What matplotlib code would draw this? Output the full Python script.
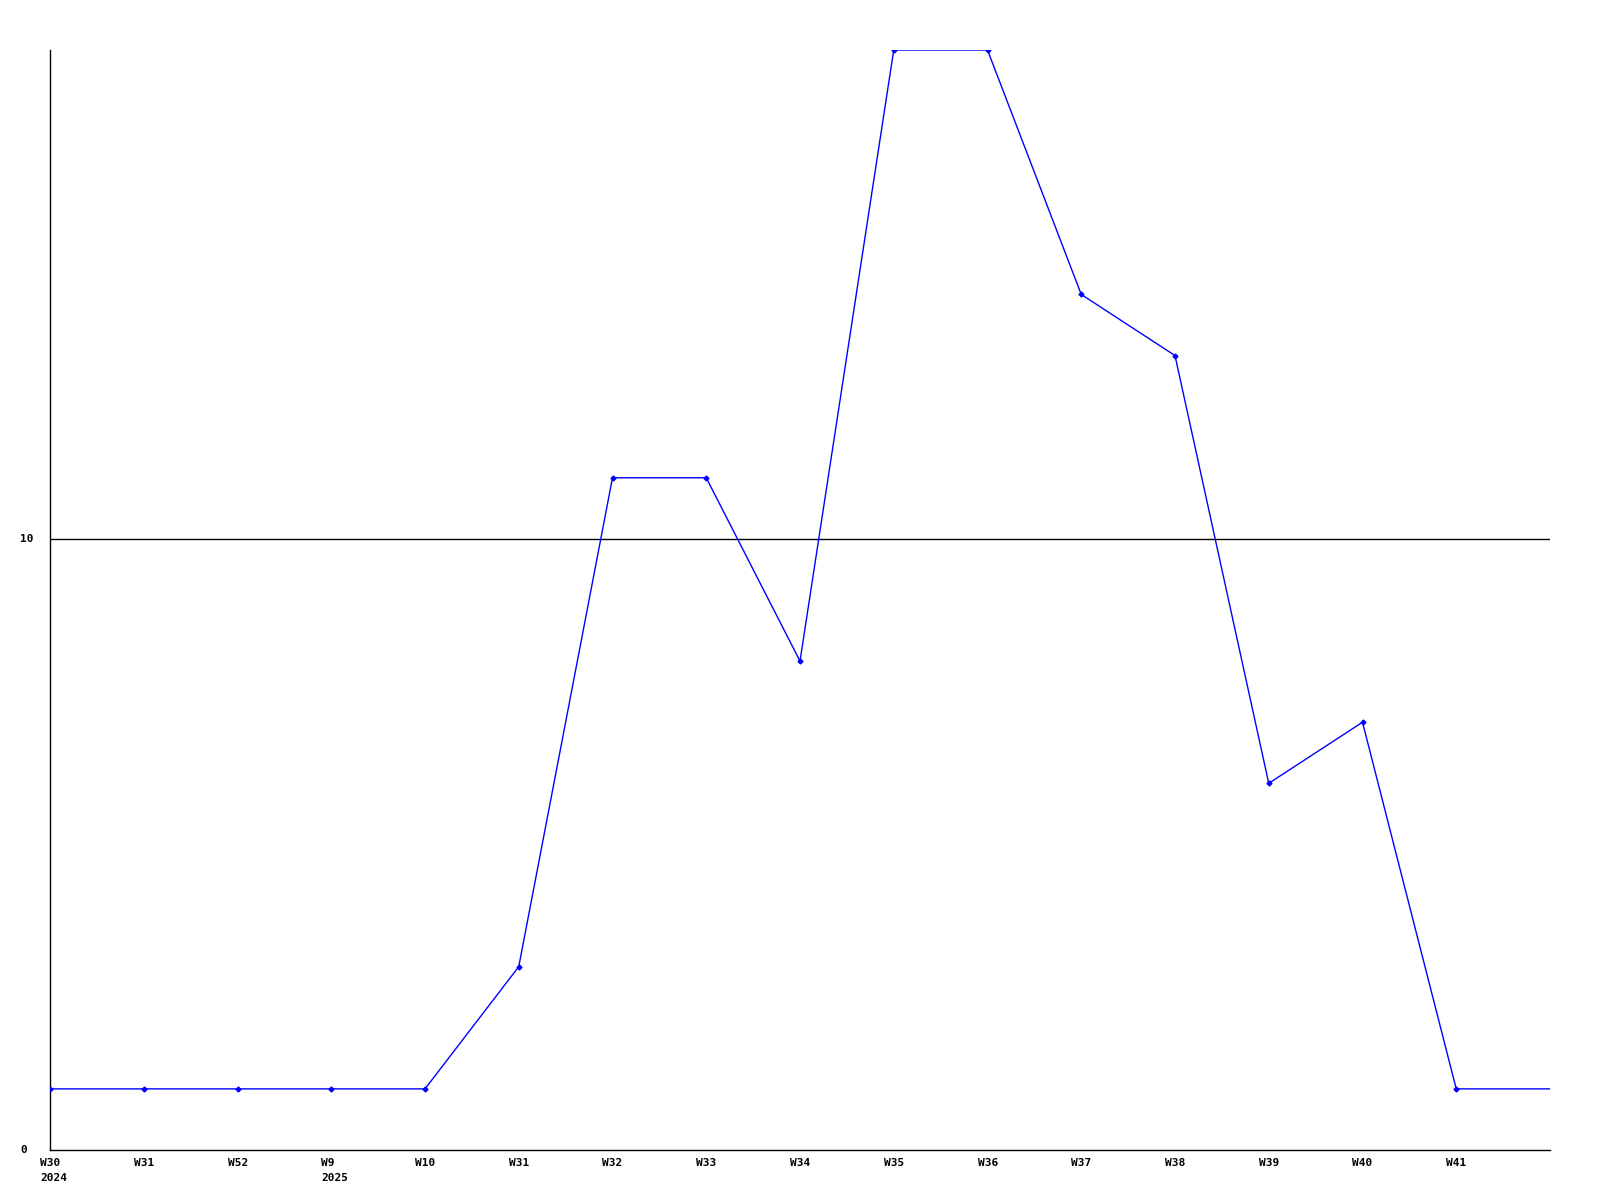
import matplotlib
matplotlib.use("Agg")
import matplotlib.pyplot as plt
import matplotlib.transforms as mtransforms

weeks = ["W30", "W31", "W52", "W9", "W10", "W31", "W32", "W33", "W34",
         "W35", "W36", "W37", "W38", "W39", "W40", "W41"]
years = ["2024", "", "", "2025", "", "", "", "", "", "", "", "", "", "", "", ""]
values = [1, 1, 1, 1, 1, 3, 11, 11, 8, 18, 18, 14, 13, 6, 7, 1]
trailing_value = 1
y_ticks = [0, 10]

fig = plt.figure(figsize=(16, 12), dpi=100)
ax = fig.add_axes([50/1600, 1 - 1150/1200, 1500/1600, 1100/1200])

n = len(values)
xs = list(range(n)) + [n]
ys = values + [trailing_value]
ax.plot(xs, ys, color="#0000FF", lw=1.0, marker="D", markersize=2.5,
        markevery=list(range(n)), zorder=3)

ax.set_xlim(0, n)
ax.set_ylim(0, 18)

for s in ["top", "right"]:
    ax.spines[s].set_visible(False)
for s in ["left", "bottom"]:
    ax.spines[s].set_linewidth(1.0)
    ax.spines[s].set_color("black")

ax.axhline(10, color="black", lw=1.0, zorder=1)

font = dict(family="DejaVu Sans Mono", weight="bold", size=8)
ax.set_xticks([])
ax.set_yticks([])

offx = mtransforms.ScaledTranslation(-10/100, 0, fig.dpi_scale_trans)
tr = ax.get_xaxis_transform() + offx
for i, (w, yr) in enumerate(zip(weeks, years)):
    ax.text(i, -0.0075, w, transform=tr, ha="left", va="top", **font)
    if yr:
        ax.text(i, -0.021, yr, transform=tr, ha="left", va="top", **font)

ytr = mtransforms.blended_transform_factory(fig.transFigure, ax.transData)
for t in y_ticks:
    fig.text(20/1600, t, str(t), ha="left", va="center", transform=ytr, **font)

fig.savefig("out.png", dpi=100, facecolor="white")
